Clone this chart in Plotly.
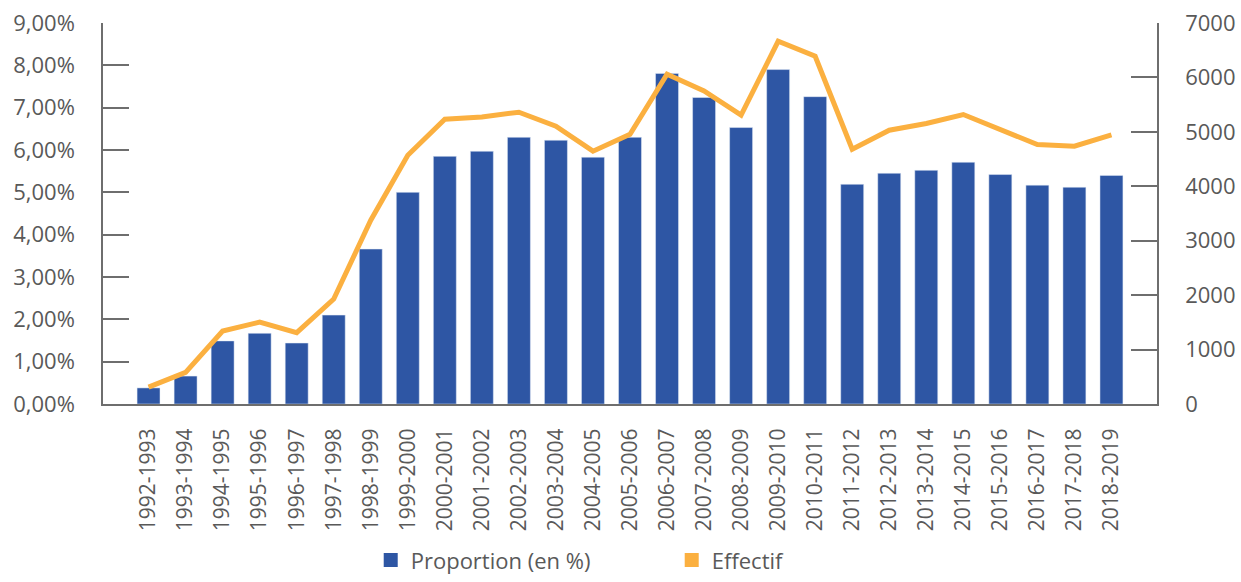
import plotly.graph_objects as go

categories = ["1992-1993", "1993-1994", "1994-1995", "1995-1996", "1996-1997", "1997-1998",
              "1998-1999", "1999-2000", "2000-2001", "2001-2002", "2002-2003", "2003-2004",
              "2004-2005", "2005-2006", "2006-2007", "2007-2008", "2008-2009", "2009-2010",
              "2010-2011", "2011-2012", "2012-2013", "2013-2014", "2014-2015", "2015-2016",
              "2016-2017", "2017-2018", "2018-2019"]

proportion = [0.38, 0.66, 1.49, 1.67, 1.44, 2.10, 3.66, 5.00, 5.85, 5.97, 6.30, 6.23,
              5.83, 6.30, 7.81, 7.24, 6.53, 7.90, 7.26, 5.19, 5.45, 5.52, 5.71, 5.42,
              5.17, 5.12, 5.40]

effectif = [310, 580, 1340, 1505, 1310, 1928, 3378, 4571, 5232, 5275, 5361, 5104,
            4645, 4957, 6058, 5752, 5306, 6664, 6389, 4682, 5030, 5153, 5318, 5030,
            4767, 4737, 4944]

left_tickvals = [0, 1, 2, 3, 4, 5, 6, 7, 8, 9]
left_ticktext = ["0,00%", "1,00%", "2,00%", "3,00%", "4,00%", "5,00%", "6,00%", "7,00%", "8,00%", "9,00%"]
right_tickvals = [0, 1000, 2000, 3000, 4000, 5000, 6000, 7000]
right_ticktext = ["0", "1000", "2000", "3000", "4000", "5000", "6000", "7000"]

BLUE = "#2E56A4"
ORANGE = "#FBB040"
TEXT = "#595959"
AXIS = "#6E6E6E"
FONT = "Open Sans"

fig = go.Figure()
fig.add_trace(go.Bar(x=categories, y=proportion, marker_color=BLUE, width=0.62,
                     name="Proportion (en %)", showlegend=False))
fig.add_trace(go.Scatter(x=categories, y=effectif, mode="lines", yaxis="y2",
                         line=dict(color=ORANGE, width=5), name="Effectif", showlegend=False))
# legend swatches (square symbols as in the reference)
fig.add_trace(go.Scatter(x=[None], y=[None], mode="markers", name="Proportion (en %)",
                         marker=dict(symbol="square", size=14, color=BLUE)))
fig.add_trace(go.Scatter(x=[None], y=[None], mode="markers", name="Effectif", yaxis="y2",
                         marker=dict(symbol="square", size=14, color=ORANGE)))

fig.update_layout(
    width=1241, height=582,
    margin=dict(l=103, r=84, t=23, b=178, pad=0, autoexpand=False),
    paper_bgcolor="white", plot_bgcolor="white",
    font=dict(family=FONT, color=TEXT, size=21),
    xaxis=dict(type="category", range=[-1.23, 27.23], showgrid=False, zeroline=False,
               showline=True, linecolor=AXIS, linewidth=2, ticks="", tickangle=-90,
               tickfont=dict(size=21, color=TEXT), ticklabelstandoff=14, automargin=False),
    yaxis=dict(range=[0, 9], tickvals=left_tickvals, ticktext=left_ticktext,
               showgrid=False, zeroline=False, showline=True, linecolor=AXIS, linewidth=1.5,
               ticks="inside", ticklen=26, tickwidth=1.5, tickcolor=AXIS,
               tickfont=dict(size=22, color=TEXT), ticklabelstandoff=22, automargin=False),
    yaxis2=dict(range=[0, 7000], tickvals=right_tickvals, ticktext=right_ticktext,
                overlaying="y", side="right", showgrid=False, zeroline=False,
                showline=True, linecolor=AXIS, linewidth=1.5,
                ticks="inside", ticklen=26, tickwidth=1.5, tickcolor=AXIS,
                tickfont=dict(size=22, color=TEXT), ticklabelstandoff=22, automargin=False),
    legend=dict(orientation="h", x=0.254, xanchor="left", y=-0.355, yanchor="top",
                font=dict(size=22, color=TEXT), entrywidth=256, bgcolor="rgba(0,0,0,0)"),
)

fig.write_html("out.html")
